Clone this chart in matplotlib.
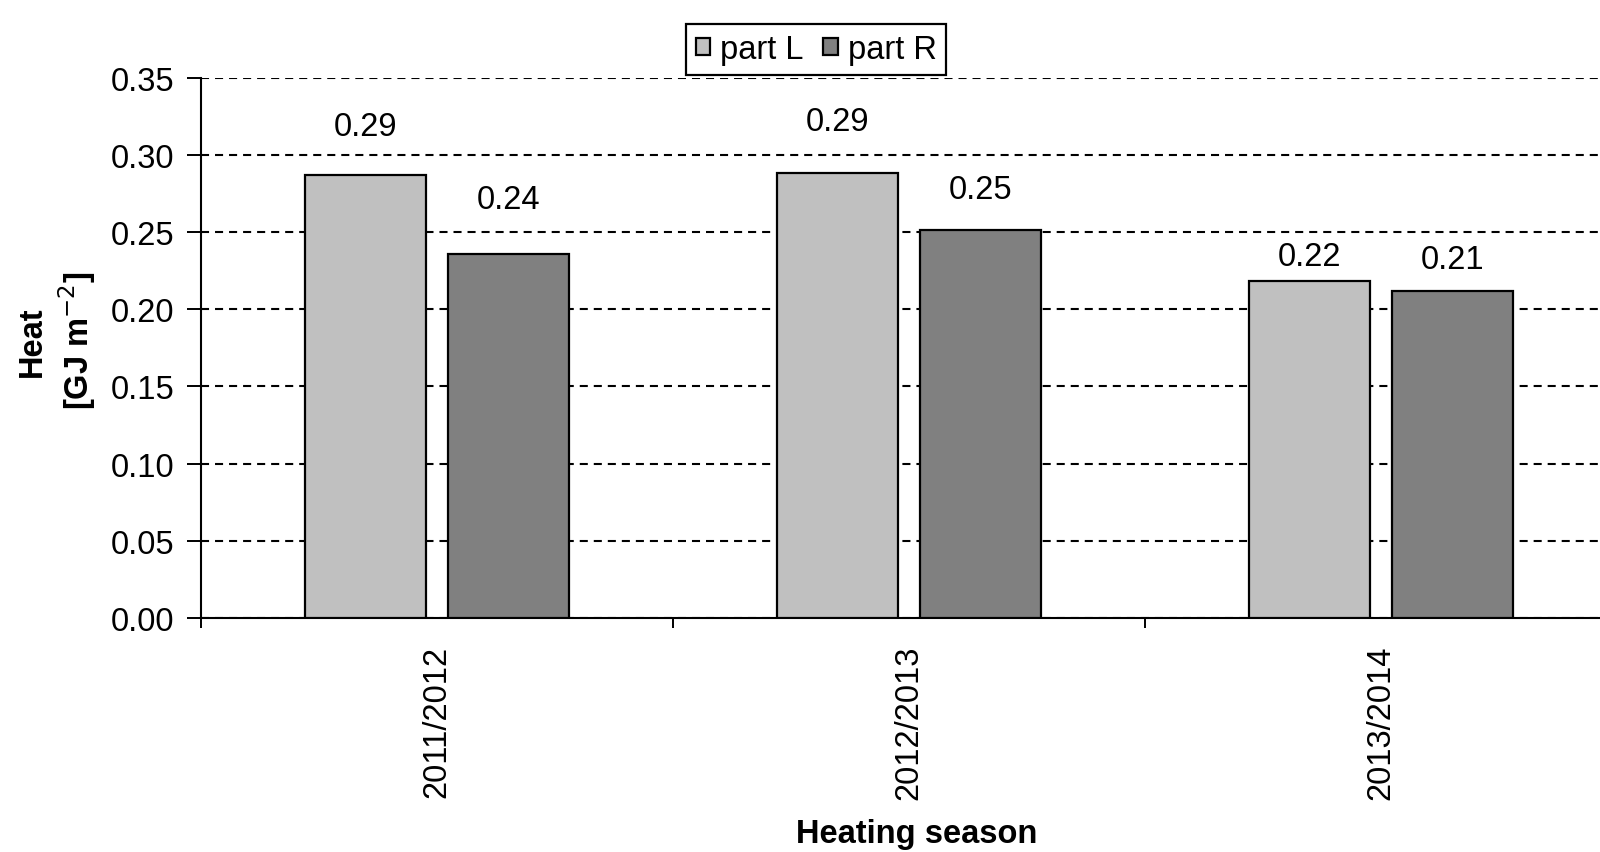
"""Heat per heating season, part L vs part R (grouped bars)."""

import matplotlib

matplotlib.use("Agg")
import matplotlib.pyplot as plt
import numpy as np

seasons = ["2011/2012", "2012/2013", "2013/2014"]
part_l = [0.2866, 0.2879, 0.2185]
part_r = [0.2357, 0.2516, 0.2120]
series_names = ["part L", "part R"]

LIGHT = "#c0c0c0"
DARK = "#808080"
FS = 23.5

# label lift above each bar, in pixels (Excel placed them unevenly)
lift_l = [49, 52, 24]
lift_r = [55, 40, 31]

plt.rcParams["font.family"] = ["Liberation Sans", "DejaVu Sans"]
plt.rcParams["lines.scale_dashes"] = False


def main() -> None:
    fig = plt.figure(figsize=(16.0, 8.53), dpi=100)
    ax = fig.add_axes([0.1256, 0.2743, 0.885, 0.6336])

    x = np.arange(1, len(seasons) + 1)
    w = 0.257
    off = 0.152
    bl = ax.bar(x - off, part_l, w, color=LIGHT, edgecolor="black", linewidth=1.6,
                label=series_names[0], zorder=3)
    br = ax.bar(x + off, part_r, w, color=DARK, edgecolor="black", linewidth=1.6,
                label=series_names[1], zorder=3)

    for bars, vals, lifts in ((bl, part_l, lift_l), (br, part_r, lift_r)):
        for rect, v, lift in zip(bars, vals, lifts):
            ax.annotate(f"{v:.2f}", (rect.get_x() + rect.get_width() / 2, v),
                        xytext=(0, lift * 0.72), textcoords="offset points",
                        ha="center", va="center", fontsize=FS)

    ax.set_xlim(0.5, 3.5)
    ax.set_ylim(0, 0.35)
    ax.set_yticks(np.arange(0, 0.351, 0.05))
    ax.set_yticklabels([f"{t:.2f}" for t in np.arange(0, 0.351, 0.05)])
    ax.set_xticks(x)
    ax.set_xticklabels(seasons, rotation=90, va="top")
    ax.set_xticks(np.arange(0.5, 4.0, 1.0), minor=True)
    ax.tick_params(axis="x", which="major", length=0, pad=19, labelsize=FS)
    ax.tick_params(axis="x", which="minor", length=7, width=1.4, direction="out")
    ax.tick_params(axis="y", length=10, width=1.4, direction="out", pad=9, labelsize=FS)

    ax.yaxis.grid(True, color="black", linewidth=1.5, linestyle=(0, (5.8, 4.3)))
    ax.set_axisbelow(True)
    for side in ("top", "right"):
        ax.spines[side].set_visible(False)
    for side in ("left", "bottom"):
        ax.spines[side].set_linewidth(1.5)

    fig.text(0.036, 0.600, "Heat\n[GJ m$^{-2}$]", rotation=90, ha="center", va="center",
             multialignment="center", fontsize=FS, fontweight="bold", linespacing=1.25)
    fig.text(0.573, 0.022, "Heating season", ha="center", va="center",
             fontsize=FS, fontweight="bold")

    leg = fig.legend(loc="center", bbox_to_anchor=(0.51, 0.9408), ncol=2, fontsize=FS,
                     frameon=True, fancybox=False, edgecolor="black", framealpha=1,
                     handlelength=0.45, handleheight=0.45, handletextpad=0.3,
                     columnspacing=0.6, borderpad=0.3, borderaxespad=0)
    leg.get_frame().set_linewidth(1.6)
    leg.set_zorder(10)

    fig.savefig("out.png", dpi=100)
    plt.close(fig)


if __name__ == "__main__":
    main()
